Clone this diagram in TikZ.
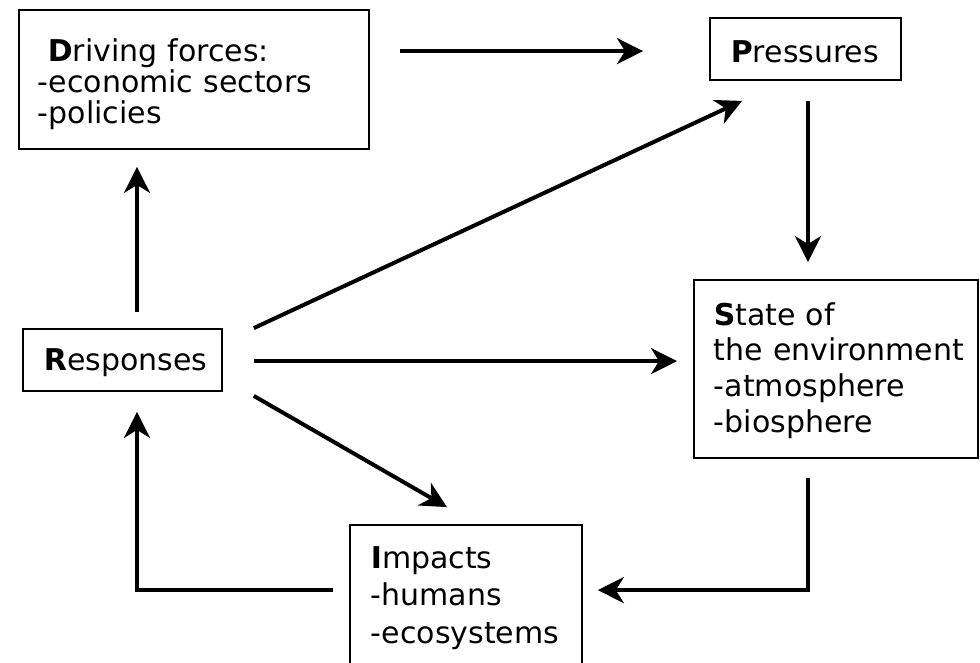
\documentclass[tikz,border=0pt]{standalone}
\usepackage{fontspec}
\setmainfont{DejaVu Sans}
\usetikzlibrary{arrows.meta,calc}
\begin{document}
\begin{tikzpicture}[x=1pt,y=-1pt,
  box/.style={draw,line width=1.8pt,inner ysep=0pt,inner xsep=21pt,align=left,anchor=base west},
  arr/.style={line width=4pt,-{Stealth[length=26pt,width=26pt,inset=8pt]}}]
\fill[white] (0,0) rectangle (980,662);
\useasboundingbox (0,0) rectangle (980,662);
\clip (0,0) rectangle (980,662);
% boxes
\node[box, inner xsep=19pt, text width=312pt, text height=51pt, text depth=88pt,
  font=\fontsize{30}{31}\selectfont] (d) at (18,61)
  {\hspace*{10pt}\textbf{D}riving forces:\\-economic sectors\\-policies};
\node[box, text width=149pt, text height=44pt, text depth=18pt,
  font=\fontsize{30}{31}\selectfont] (p) at (709,62) {\textbf{P}ressures};
\node[box, text width=157pt, text height=41pt, text depth=21pt,
  font=\fontsize{30}{31}\selectfont] (r) at (22,370) {\textbf{R}esponses};
\node[box, inner xsep=20pt, text width=244pt, text height=45pt, text depth=133pt,
  font=\fontsize{30}{35.7}\selectfont] (s) at (693,325)
  {\textbf{S}tate of\\\mbox{the environment}\\-atmosphere\\-biosphere};
\node[box, text width=190pt, text height=43pt, text depth=140pt,
  font=\fontsize{30}{37.5}\selectfont] (i) at (349,568)
  {\textbf{I}mpacts\\-humans\\-ecosystems};
% connectors
\draw[arr] ($(d.north east)+(30,42)$) -- ($(p.north west)+(-66,34)$);
\draw[arr] ($(p.south west)+(99,20)$) -- ($(s.north west)+(115,-17)$);
\draw[arr] ($(r.north east)+(31,0)$) -- ($(p.south west)+(33,20)$);
\draw[arr] ($(r.north east)+(31,33)$) -- ($(s.north west)+(-16,82)$);
\draw[arr] ($(r.south east)+(31,4)$) -- ($(i.north west)+(98,-17)$);
\draw[arr] ($(s.south west)+(115,19)$) |- ($(i.north east)+(15,66)$);
\draw[arr] ($(i.north west)+(-16,66)$) -| ($(r.south west)+(115,20)$);
\draw[arr] ($(r.north west)+(115,-16)$) -- ($(d.south west)+(119,17)$);
\end{tikzpicture}
\end{document}
